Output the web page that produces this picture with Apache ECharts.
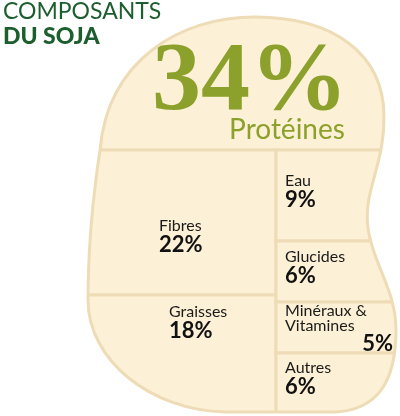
<!DOCTYPE html>
<html><head><meta charset="utf-8">
<script src="https://cdn.jsdelivr.net/npm/echarts@6/dist/echarts.min.js"></script>
<style>html,body{margin:0;padding:0;background:#fff}#c{width:400px;height:416px}</style>
</head><body><div id="c"></div>
<script>
const categories = ['Protéines','Fibres','Graisses','Eau','Glucides','Minéraux &\nVitamines','Autres'];
const values = [34,22,18,9,6,5,6];
// layout (x0,y0,x1,y1) in chart units
const cellRects = [[-10,-10,410,150],[-10,150,276,295],[-10,295,276,426],[276,150,410,241],[276,241,410,302],[276,302,410,353],[276,353,410,426]];
const labelPos = [[0,0],[159,218],[169,304],[285,173],[285,249],[285,303],[285,360]];
const bean = 'M100,150 C108,60 180,17 255,17 C335,17 383,55 384,115 C385,165 363,190 368,228 C372,262 396,290 396,330 C396,385 375,410 335,412 L225,412 C150,410 88,360 88,300 C88,240 94,190 100,150 Z';
const mask = 'M-5,-5 L-5,421 L405,421 L405,-5 Z ' + bean;
const chart = echarts.init(document.getElementById('c'));
const data = categories.map((n,i)=>({name:n,value:[i,values[i]]}));
chart.setOption({
  animation:false,
  grid:{left:0,right:0,top:0,bottom:0},
  xAxis:{type:'value',min:0,max:400,show:false},
  yAxis:{type:'value',min:0,max:416,inverse:true,show:false},
  series:[{
    type:'custom',
    data:data,
    z:2,
    renderItem:function(params,api){
      const i=api.value(0), v=api.value(1), r=cellRects[i];
      const p0=api.coord([r[0],r[1]]), p1=api.coord([r[2],r[3]]);
      const children=[{type:'rect',shape:{x:p0[0],y:p0[1],width:p1[0]-p0[0],height:p1[1]-p0[1]},
        style:{fill:'#fcf1d6',stroke:'#eddcb6',lineWidth:3}}];
      const name=categories[i];
      if(i===0){
        children.push({type:'text',z2:50,style:{text:v+'%',x:api.coord([250,0])[0],y:api.coord([0,84])[1],align:'center',verticalAlign:'middle',font:'bold 98px "Liberation Serif"',fill:'#8ba12b'}});
        children.push({type:'text',z2:50,style:{text:name,x:api.coord([287,0])[0],y:api.coord([0,130])[1],align:'center',verticalAlign:'middle',font:'28px Lato',fill:'#8ba12b'}});
      } else {
        const lp=api.coord(labelPos[i]);
        children.push({type:'text',style:{text:name,x:lp[0],y:lp[1],font:'16px Lato',fill:'#1a1a1a',lineHeight:15}});
        if(i===5){
          children.push({type:'text',style:{text:v+'%',x:api.coord([393,0])[0],y:api.coord([0,333])[1],align:'right',font:'bold 22px Lato',fill:'#111'}});
        } else {
          children.push({type:'text',style:{text:v+'%',x:lp[0],y:lp[1]+16,font:'bold 22px Lato',fill:'#111'}});
        }
      }
      return {type:'group',children:children};
    }
  },{
    type:'custom',
    z:5,
    data:[[0,0]],
    renderItem:function(params,api){
      return {type:'group',children:[
        {type:'path',shape:{pathData:mask},style:{fill:'#fff'}},
        {type:'path',shape:{pathData:bean},style:{fill:'none',stroke:'#eddcb6',lineWidth:3}}
      ]};
    }
  }],
  graphic:[
    {type:'text',left:3,top:0,z:11,style:{text:'COMPOSANTS',font:'23px Lato',fill:'#1d5e2f'}},
    {type:'text',left:3,top:25,z:11,style:{text:'DU SOJA',font:'900 23px Lato',fill:'#1d5e2f'}}
  ]
});
</script></body></html>
